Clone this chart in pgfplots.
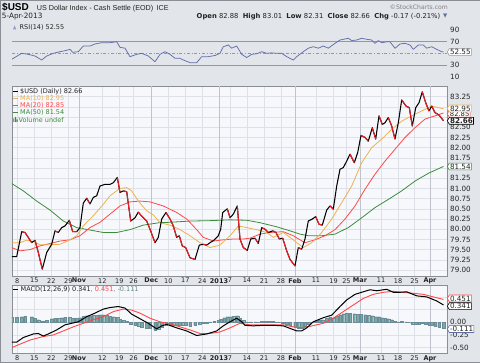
\documentclass[border=0pt]{standalone}
\usepackage{fontspec}
\setmainfont{DejaVu Sans}
\newfontfamily\libsans{Liberation Sans}
\usepackage{pgfplots}
\pgfplotsset{compat=1.18}
\usepgfplotslibrary{fillbetween}
\usetikzlibrary{shapes.symbols}

\definecolor{outerbg}{RGB}{226,229,234}
\definecolor{plotbg}{RGB}{247,248,252}
\definecolor{gridc}{RGB}{222,225,231}
\definecolor{monthc}{RGB}{192,195,203}
\definecolor{framec}{RGB}{140,142,150}
\definecolor{refc}{RGB}{150,152,160}
\definecolor{pricered}{RGB}{235,30,35}
\definecolor{ma10}{RGB}{236,178,80}
\definecolor{ma20}{RGB}{255,72,72}
\definecolor{ma50}{RGB}{60,140,60}
\definecolor{rsic}{RGB}{100,110,170}
\definecolor{histfill}{RGB}{125,168,166}
\definecolor{histedge}{RGB}{95,110,165}
\definecolor{histline}{RGB}{105,140,150}
\definecolor{lblc}{RGB}{35,35,35}

\newcommand\tkf{\fontsize{7.2}{8}\selectfont}
\newcommand\dtf{\fontsize{6.5}{7}\selectfont}
\newcommand\lgf{\fontsize{6.5}{7.5}\selectfont}

\pgfplotsset{
  panel/.style={
    scale only axis, width=435pt,
    xmin=12, xmax=447,
    axis background/.style={fill=plotbg},
    axis line style={draw=framec, line width=0.6pt},
    xtick={17.3,34.3,51.3,68.3,79,102.3,119.3,133.6,151.3,168.3,185.3,202.3,219,230,247,264,281,295,316,333.5,346.5,360,381,398,414.5,430},
    xmajorgrids, ymajorgrids,
    major grid style={draw=gridc, line width=0.5pt},
    extra x ticks={79,151.3,219,295,360,430},
    extra x tick labels={},
    extra x tick style={major grid style={draw=monthc, line width=0.6pt}},
    major tick length=0pt,
    yticklabel pos=right,
    yticklabel style={font=\tkf, text=lblc, inner sep=0pt, xshift=3pt},
    xticklabel style={font=\dtf, text=lblc, inner sep=0pt, yshift=-2pt},
    /pgf/number format/assume math mode=true,
  },
  datelabels/.style={xticklabels={8,15,22,29,\textbf{Nov},12,19,26,\textbf{Dec},10,17,24,\textbf{2013},7,14,21,28,\textbf{Feb},11,19,25,\textbf{Mar},11,18,25,\textbf{Apr}}},
}
\tikzset{vb/.style={signal, signal to=west, signal pointer angle=120, draw=#1, fill=white, line width=0.6pt, inner sep=0.7pt, font=\tkf, text=lblc, anchor=west}}

\begin{document}
\begin{tikzpicture}[x=1pt,y=1pt]
\fill[outerbg] (0,0) rectangle (480,363);
\draw[framec, line width=0.5pt] (0.25,0.25) rectangle (479.75,362.75);

% ---------------- RSI panel ----------------
\begin{axis}[panel, at={(12pt,277pt)}, anchor=south west, height=64.3pt,
  ymin=-5.64, ymax=104.3, xticklabels={},
  ytick={10,30,70,90}, yticklabels={10,30,70,90}]
\addplot[refc, line width=0.6pt] coordinates {(12,70)(447,70)};
\addplot[refc, line width=0.6pt] coordinates {(12,30)(447,30)};
\addplot[refc, line width=0.6pt, dash dot] coordinates {(12,50)(447,50)};
\addplot[name path=ob, draw=none] coordinates {(12,70)(447,70)};
\addplot[name path=rsi, draw=none] coordinates {(11.7,40)(21.7,50.2)(28.3,48.5)(35,45.6)(41.7,38.8)(46.7,45.6)(53.3,50.2)(60,53)(65,54.7)(70,57)(72.7,52)(78.3,53)(83.3,62.7)(90,62.7)(95,66.2)(101.7,68.4)(110,68.4)(116.7,70)(120,60.5)(125,59)(130,44.5)(136.7,48.5)(141.7,50.2)(148.3,45.6)(155,35.9)(160,48.5)(165,53)(170,48.5)(175,41.7)(180,41.7)(183.3,38.8)(190,34.2)(196.7,34.2)(201.7,44.5)(208.3,44.5)(215,46.5)(220,50.2)(223.3,61.5)(228.3,64.4)(231.7,59)(236.7,62.7)(241.7,48.5)(246.7,43)(251.7,48.5)(256.7,49.5)(261.7,53)(266.7,50.2)(271.7,51)(276.7,50.2)(281.7,50.2)(286.7,44.5)(293.3,38.8)(296.7,44.5)(303.3,53)(308.3,59)(313.3,61.5)(318.3,59)(323.3,62.7)(328.3,59)(335,67.3)(340,73)(348.3,75.9)(351.7,72)(356.7,73)(361.7,75.9)(366.7,74.2)(371.7,73)(375,67.3)(378.3,72)(381.7,68.4)(386.7,69.9)(390,69.9)(395,58.8)(400,66.2)(405,67.3)(410,64.4)(413.3,57)(418.3,64.4)(423.3,64.4)(426.7,59)(431.7,61.5)(436.7,57)(441.7,53)(443.5,52.55)};
\addplot[fill=histfill, draw=none] fill between[of=rsi and ob, soft clip={(axis cs:12,70) rectangle (axis cs:447,104)}];
\addplot[rsic, line width=0.75pt, line join=round] coordinates {(11.7,40)(21.7,50.2)(28.3,48.5)(35,45.6)(41.7,38.8)(46.7,45.6)(53.3,50.2)(60,53)(65,54.7)(70,57)(72.7,52)(78.3,53)(83.3,62.7)(90,62.7)(95,66.2)(101.7,68.4)(110,68.4)(116.7,70)(120,60.5)(125,59)(130,44.5)(136.7,48.5)(141.7,50.2)(148.3,45.6)(155,35.9)(160,48.5)(165,53)(170,48.5)(175,41.7)(180,41.7)(183.3,38.8)(190,34.2)(196.7,34.2)(201.7,44.5)(208.3,44.5)(215,46.5)(220,50.2)(223.3,61.5)(228.3,64.4)(231.7,59)(236.7,62.7)(241.7,48.5)(246.7,43)(251.7,48.5)(256.7,49.5)(261.7,53)(266.7,50.2)(271.7,51)(276.7,50.2)(281.7,50.2)(286.7,44.5)(293.3,38.8)(296.7,44.5)(303.3,53)(308.3,59)(313.3,61.5)(318.3,59)(323.3,62.7)(328.3,59)(335,67.3)(340,73)(348.3,75.9)(351.7,72)(356.7,73)(361.7,75.9)(366.7,74.2)(371.7,73)(375,67.3)(378.3,72)(381.7,68.4)(386.7,69.9)(390,69.9)(395,58.8)(400,66.2)(405,67.3)(410,64.4)(413.3,57)(418.3,64.4)(423.3,64.4)(426.7,59)(431.7,61.5)(436.7,57)(441.7,53)(443.5,52.55)};
\end{axis}

% ---------------- Price panel ----------------
\begin{axis}[panel, datelabels, at={(12pt,87pt)}, anchor=south west, height=190pt,
  ymin=78.853, ymax=83.512,
  ytick={79,79.25,79.5,79.75,80,80.25,80.5,80.75,81,81.25,81.5,81.75,82,82.25,82.5,82.75,83,83.25},
  yticklabels={79.00,79.25,79.50,79.75,80.00,80.25,80.50,80.75,81.00,81.25,{},81.75,82.00,82.25,82.50,{},{},83.25}]
% MA(50)
\addplot[ma50, line width=0.8pt] coordinates {(11.7,81.12)(23.3,80.94)(36.7,80.69)(50,80.47)(63.3,80.20)(76.7,80.04)(90,79.98)(103.3,79.92)(116.7,79.92)(130,79.99)(143.3,80.10)(159.3,80.16)(170,80.17)(190,80.20)(210,80.21)(230,80.23)(246.7,80.22)(260,80.16)(276.7,80.06)(290,79.96)(300,79.88)(308.3,79.84)(321.7,79.84)(335,79.88)(348.3,80.04)(361.7,80.28)(375,80.53)(388.3,80.73)(401.7,80.94)(415,81.18)(428.3,81.37)(443.5,81.54)};
% MA(20)
\addplot[ma20, line width=0.8pt] coordinates {(11.7,79.55)(20,79.47)(30,79.50)(40,79.59)(50,79.65)(60,79.71)(70,79.74)(80,79.84)(90,80.04)(100,80.17)(110,80.37)(120,80.57)(130,80.67)(140,80.69)(150,80.67)(163.3,80.57)(176.7,80.41)(186.7,80.25)(196.7,79.99)(203.3,79.80)(213.3,79.71)(223.3,79.74)(233.3,79.76)(243.3,79.76)(250,79.78)(260,79.88)(270,79.92)(283.3,79.94)(293.3,79.84)(300,79.74)(305,79.67)(315,79.74)(325,79.84)(335,79.99)(345,80.25)(355,80.57)(365,80.98)(375,81.35)(385,81.67)(395,81.96)(405,82.25)(415,82.49)(425,82.70)(435,82.78)(443.5,82.85)};
% MA(10)
\addplot[ma10, line width=0.8pt] coordinates {(11.7,79.67)(20,79.67)(26.7,79.73)(33.3,79.70)(40,79.62)(50,79.62)(60,79.63)(70,79.74)(76.7,79.84)(83.3,80.08)(93.3,80.33)(103.3,80.61)(110,80.82)(120,81.00)(126.7,81.02)(131.7,80.94)(138.3,80.69)(146.7,80.45)(153.3,80.35)(160,80.16)(170,80.10)(180,79.99)(190,79.84)(200,79.67)(210,79.55)(220,79.61)(230,79.84)(238.3,80.08)(246.7,80.04)(256.7,79.99)(266.7,79.92)(273.3,79.80)(283.3,79.92)(290,79.80)(300,79.61)(303.3,79.55)(311.7,79.67)(321.7,79.92)(331.7,80.25)(341.7,80.65)(351.7,81.06)(361.7,81.63)(371.7,82.00)(381.7,82.21)(391.7,82.45)(401.7,82.65)(411.7,82.78)(421.7,82.90)(431.7,83.02)(443.5,82.95)};
% Price (black, full)
\addplot[black, line width=1.05pt, line join=round] coordinates {(11.7,79.33)(16.7,79.33)(21.7,79.94)(25,79.92)(31.7,79.67)(35,79.73)(38.3,79.43)(42.3,79.02)(46.7,79.43)(51.7,79.63)(55,79.96)(58.3,79.92)(61.7,80.04)(65,80.08)(69.3,80.22)(72.7,79.94)(76.7,79.94)(80,80.04)(83.3,80.64)(86.7,80.76)(90,80.62)(93.3,80.78)(96.7,80.82)(100,81.06)(105,81.10)(110,81.10)(113.3,81.14)(117.3,81.27)(120,80.90)(123.3,80.94)(126.7,80.92)(130.7,80.20)(135,80.28)(138.3,80.42)(141.7,80.32)(146.7,80.20)(150,80.00)(155,79.67)(158.3,79.80)(161.7,80.25)(166,80.41)(170,80.25)(173.3,80.08)(176.7,79.80)(179.3,79.84)(182.3,79.59)(185.7,79.55)(190,79.30)(195,79.26)(199.3,79.61)(203.3,79.63)(206.7,79.61)(210,79.67)(214,79.73)(218.3,79.84)(220.7,80.00)(222.7,80.41)(227.3,80.50)(230,80.28)(233.3,80.37)(237.3,80.57)(240,79.76)(243.3,79.55)(247.3,79.48)(250.7,79.76)(255,79.78)(258.3,79.65)(261.7,80.04)(265,80.00)(268.3,79.92)(272.7,79.96)(276,79.92)(279.3,79.76)(282.7,79.78)(286.7,79.47)(290,79.26)(295,79.10)(298.3,79.55)(301.7,79.51)(305,79.76)(308.3,80.20)(312.3,80.25)(315.7,80.31)(319,80.12)(322.3,80.10)(326.7,80.47)(330,80.57)(333.3,80.49)(336.7,81.06)(340,81.47)(343.3,81.51)(346.7,81.67)(350,81.84)(354.3,81.63)(357.7,81.88)(361,82.30)(365,82.25)(368.3,82.16)(372.3,82.49)(375.7,82.21)(379,82.78)(382.3,82.57)(385,82.61)(388.3,82.74)(391.7,82.53)(395,82.21)(398.3,82.61)(401.7,83.17)(406,83.02)(409.3,82.98)(412.3,82.53)(415.7,82.98)(419,83.10)(422.3,83.37)(425.7,83.10)(429,82.90)(431.7,83.02)(435,82.86)(439,82.80)(443.5,82.66)};
% Price down-day segments (red)
\addplot[pricered, line width=1.05pt, line join=round, unbounded coords=jump] coordinates {
(21.7,79.94)(25,79.92)(31.7,79.67)(32,nan)
(35,79.73)(38.3,79.43)(42.3,79.02)(43,nan)
(55,79.96)(58.3,79.92)(59,nan)
(69.3,80.22)(72.7,79.94)(76.7,79.94)(77,nan)
(86.7,80.76)(90,80.62)(91,nan)
(117.3,81.27)(120,80.90)(121,nan)
(123.3,80.94)(126.7,80.92)(130.7,80.20)(131,nan)
(138.3,80.42)(141.7,80.32)(146.7,80.20)(150,80.00)(155,79.67)(156,nan)
(166,80.41)(170,80.25)(173.3,80.08)(176.7,79.80)(177,nan)
(179.3,79.84)(182.3,79.59)(185.7,79.55)(190,79.30)(195,79.26)(196,nan)
(203.3,79.63)(206.7,79.61)(207,nan)
(227.3,80.50)(230,80.28)(231,nan)
(237.3,80.57)(240,79.76)(243.3,79.55)(247.3,79.48)(248,nan)
(255,79.78)(258.3,79.65)(259,nan)
(261.7,80.04)(265,80.00)(268.3,79.92)(269,nan)
(272.7,79.96)(276,79.92)(279.3,79.76)(280,nan)
(282.7,79.78)(286.7,79.47)(290,79.26)(295,79.10)(296,nan)
(298.3,79.55)(301.7,79.51)(302,nan)
(315.7,80.31)(319,80.12)(322.3,80.10)(323,nan)
(330,80.57)(333.3,80.49)(334,nan)
(350,81.84)(354.3,81.63)(355,nan)
(361,82.30)(365,82.25)(368.3,82.16)(369,nan)
(372.3,82.49)(375.7,82.21)(376,nan)
(379,82.78)(382.3,82.57)(383,nan)
(388.3,82.74)(391.7,82.53)(395,82.21)(396,nan)
(401.7,83.17)(406,83.02)(409.3,82.98)(412.3,82.53)(413,nan)
(422.3,83.37)(425.7,83.10)(429,82.90)(430,nan)
(431.7,83.02)(435,82.86)(439,82.80)(443.5,82.66)};
\end{axis}

% ---------------- MACD panel ----------------
\begin{axis}[panel, datelabels, at={(12pt,9.7pt)}, anchor=south west, height=67.6pt,
  ymin=-0.61, ymax=0.72,
  ytick={-0.5,-0.25,0,0.25,0.5}, yticklabels={-0.50,-0.25,0.00,{},{}}]
\addplot[ybar, bar width=2.7, fill=histfill, draw=histline, line width=0.2pt] coordinates {(11.7,0.10)(16.7,0.10)(21.7,0.11)(25,0.12)(31.7,0.11)(35,0.08)(38.3,0.05)(42.3,0.03)(46.7,0.04)(51.7,0.07)(55,0.08)(58.3,0.08)(61.7,0.09)(65,0.10)(69.3,0.10)(72.7,0.08)(76.7,0.08)(80,0.09)(83.3,0.12)(86.7,0.13)(90,0.13)(93.3,0.14)(96.7,0.14)(100,0.15)(103.3,0.15)(106.7,0.14)(110,0.12)(113.3,0.11)(117.3,0.10)(120,0.06)(123.3,0.04)(126.7,0.02)(130.7,-0.04)(135,-0.06)(138.3,-0.07)(141.7,-0.09)(146.7,-0.11)(150,-0.12)(155,-0.15)(158.3,-0.13)(161.7,-0.09)(166,-0.06)(170,-0.05)(173.3,-0.05)(176.7,-0.06)(179.3,-0.05)(182.3,-0.06)(185.7,-0.06)(190,-0.07)(195,-0.06)(199.3,-0.03)(203.3,-0.02)(206.7,-0.01)(210,0.01)(214,0.02)(218.3,0.04)(220.7,0.06)(224,0.09)(227.3,0.11)(230,0.11)(233.3,0.12)(237.3,0.13)(240,0.08)(243.3,0.04)(247.3,0.01)(250.7,0.01)(255,0.01)(258.3,0.00)(261.7,0.02)(265,0.02)(268.3,0.02)(272.7,0.02)(276,0.01)(279.3,0.00)(282.7,-0.01)(286.7,-0.03)(290,-0.06)(295,-0.09)(298.3,-0.11)(301.7,-0.11)(305,-0.08)(308.3,-0.04)(312.3,0.00)(315.7,0.03)(319,0.04)(322.3,0.05)(326.7,0.08)(330,0.10)(333.3,0.09)(336.7,0.12)(340,0.15)(343.3,0.17)(346.7,0.18)(350,0.18)(354.3,0.17)(357.7,0.16)(361,0.16)(365,0.15)(368.3,0.14)(372.3,0.13)(375.7,0.11)(379,0.11)(382.3,0.09)(385,0.08)(388.3,0.07)(391.7,0.05)(395,0.02)(398.3,0.01)(401.7,0.02)(406,0.01)(409.3,0.00)(412.3,-0.03)(415.7,-0.03)(419,-0.03)(422.3,-0.02)(425.7,-0.03)(429,-0.05)(431.7,-0.05)(435,-0.07)(439,-0.09)(443.5,-0.11)};
\addplot[ma20, line width=0.9pt] coordinates {(11.7,-0.50)(20,-0.43)(30,-0.35)(43.3,-0.28)(53.3,-0.25)(63.3,-0.17)(73.3,-0.09)(83.3,-0.02)(93.3,0.05)(103.3,0.11)(113.3,0.21)(123.3,0.26)(131.7,0.24)(140,0.18)(150,0.08)(160,0.01)(170,-0.03)(180,-0.09)(190,-0.15)(200,-0.22)(210,-0.22)(220,-0.19)(230,-0.11)(240,-0.02)(250,-0.05)(263.3,-0.05)(283.3,-0.05)(293.3,-0.09)(301.7,-0.11)(310,-0.08)(323.3,-0.02)(333.3,0.08)(343.3,0.21)(353.3,0.34)(363.3,0.47)(373.3,0.55)(383.3,0.59)(393.3,0.61)(403.3,0.59)(413.3,0.57)(423.3,0.55)(433.3,0.50)(443.5,0.45)};
\addplot[black, line width=1.0pt, line join=round] coordinates {(11.7,-0.39)(16.7,-0.39)(23.3,-0.30)(33.3,-0.23)(38.3,-0.22)(43.3,-0.27)(48.3,-0.23)(56.7,-0.15)(65,-0.05)(71.7,-0.02)(78.3,0.01)(86.7,0.11)(95,0.18)(103.3,0.26)(110,0.29)(118.3,0.31)(125,0.28)(131.7,0.16)(140,0.07)(148.3,-0.02)(156.7,-0.13)(161.7,-0.07)(166.7,-0.04)(176.7,-0.11)(186.7,-0.17)(196.7,-0.26)(206.7,-0.23)(216.7,-0.17)(223.3,-0.07)(230,0.01)(236.7,0.08)(241.7,0.01)(245,-0.06)(253.3,-0.07)(263.3,-0.06)(273.3,-0.06)(283.3,-0.07)(290,-0.12)(296.7,-0.17)(301.7,-0.17)(306.7,-0.11)(313.3,0.01)(323.3,0.09)(331.7,0.14)(340,0.31)(346.7,0.44)(355,0.55)(363.3,0.60)(370,0.64)(376.7,0.62)(386.7,0.65)(393.3,0.59)(400,0.59)(406.7,0.60)(416.7,0.52)(426.7,0.50)(436.7,0.42)(443.5,0.34)};
\end{axis}

% ---------------- Header ----------------
\node[anchor=base west, inner sep=0pt, font=\libsans\bfseries\fontsize{10}{12}\selectfont] at (2,352.3) {\$USD};
\node[anchor=base west, inner sep=0pt, font=\libsans\fontsize{7.2}{8}\selectfont, text=lblc] at (36.7,352.3) {US Dollar Index - Cash Settle (EOD)};
\node[anchor=base west, inner sep=0pt, font=\libsans\fontsize{7.2}{8}\selectfont, text=lblc] at (156.5,352.3) {ICE};
\node[anchor=base west, inner sep=0pt, font=\fontsize{7.3}{8}\selectfont, text=lblc] at (1.7,344.7) {5-Apr-2013};
\node[anchor=base east, inner sep=0pt, font=\fontsize{6.1}{7}\selectfont, text=gray] at (448,353) {©StockCharts.com};
\node[anchor=base east, inner sep=0pt, font=\fontsize{6.8}{8}\selectfont, text=lblc] at (440.5,344.7) {\textbf{Open} 82.88 \ \textbf{High} 83.01 \ \textbf{Low} 82.31 \ \textbf{Close} 82.66 \ \textbf{Chg} -0.17 (-0.21\%)};
\node[anchor=base east, inner sep=0pt, font=\fontsize{5.5}{6}\selectfont, text=histedge] at (447.5,345.2) {▼};

% ---------------- Panel legends ----------------
\fill[rsic!70] (13,333.5) -- (14.6,337.5) -- (16.2,333.5) -- cycle;
\node[anchor=base west, inner sep=0pt, font=\lgf, text=lblc] at (19.5,333.5) {RSI(14) 52.55};

\draw[black, line width=1.2pt] (13.3,271.3) -- (18.3,271.3);
\node[anchor=west, inner sep=0pt, font=\lgf, text=lblc] at (20,271.3) {\$USD (Daily) 82.66};
\draw[ma10, line width=1.2pt] (13.3,264.6) -- (18.3,264.6);
\node[anchor=west, inner sep=0pt, font=\lgf, text=ma10] at (20,264.6) {MA(10) 82.95};
\draw[ma20, line width=1.2pt] (13.3,257.8) -- (18.3,257.8);
\node[anchor=west, inner sep=0pt, font=\lgf, text=ma20] at (20,257.8) {MA(20) 82.85};
\draw[ma50, line width=1.2pt] (13.3,250.6) -- (18.3,250.6);
\node[anchor=west, inner sep=0pt, font=\lgf, text=ma50] at (20,250.6) {MA(50) 81.54};
\fill[ma50] (13.3,241) rectangle (14.3,244.5) (15,241) rectangle (16,246) (16.7,241) rectangle (17.7,243.5);
\node[anchor=west, inner sep=0pt, font=\lgf, text=ma50] at (18.5,243.2) {Volume undef};

\draw[black, line width=1.2pt] (13.3,73.7) -- (18.3,73.7);
\node[anchor=west, inner sep=0pt, font=\lgf, text=lblc] at (20.5,73.7) {MACD(12,26,9) 0.341\textcolor{ma20}{, 0.451}\textcolor{histfill!80!black}{, -0.111}};

% ---------------- Value boxes ----------------
\node[vb=refc] at (447,311) {52.55};
\node[vb=ma20, font=\fontsize{6.8}{7}\selectfont] at (447,249.2) {82.85};
\node[vb=ma10] at (447,254.6) {82.95};
\node[vb=black, font=\tkf\bfseries] at (447,242.2) {82.66};
\node[vb=ma50] at (447,196.5) {81.54};
\node[vb=ma20] at (447,64.6) {0.451};
\node[vb=black] at (447,56.8) {0.341};
\node[vb=histedge] at (447,33.9) {-0.111};

\pgfresetboundingbox
\useasboundingbox (0,0) rectangle (480,363);
\end{tikzpicture}
\end{document}
